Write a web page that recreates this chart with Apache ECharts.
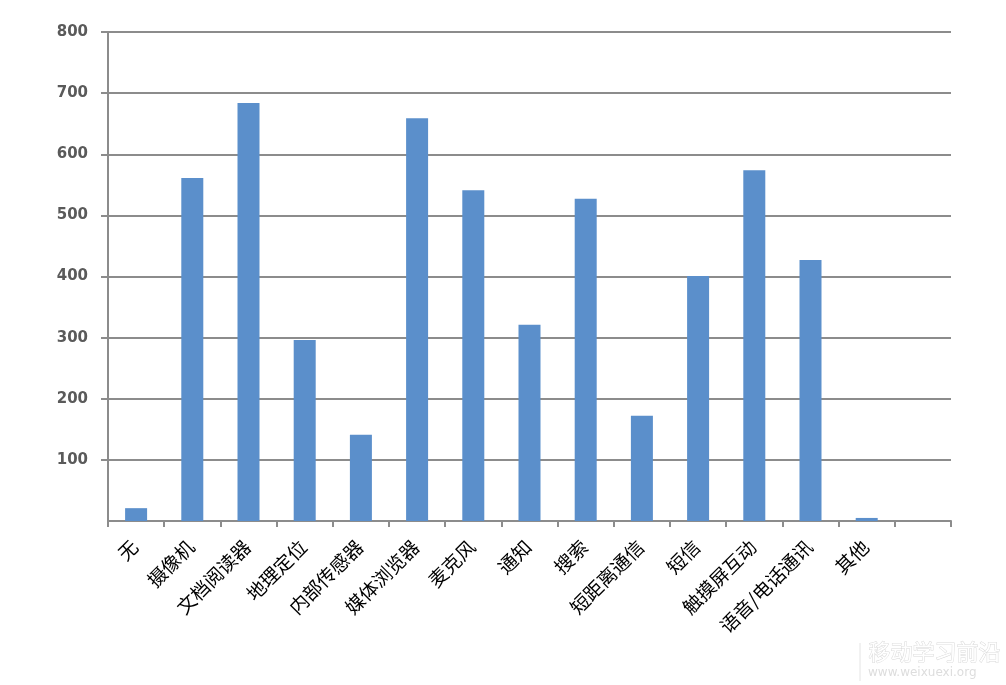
<!DOCTYPE html>
<html>
<head>
<meta charset="utf-8">
<script src="https://cdn.jsdelivr.net/npm/echarts@6/dist/echarts.min.js"></script>
<style>
html,body{margin:0;padding:0;background:#fff;}
#main{width:1006px;height:685px;}
</style>
</head>
<body>
<div id="main"></div>
<script>
const categories = ['无','摄像机','文档阅读器','地理定位','内部传感器','媒体浏览器','麦克风','通知','搜索','短距离通信','短信','触摸屏互动','语音/电话通讯','其他',''];
const values = [21, 561, 684, 296, 141, 659, 541, 321, 527, 172, 401, 574, 427, 5, null];
const yTicks = { min: 0, max: 800, interval: 100 };
const watermarkTitle = '移动学习前沿';
const watermarkUrl = 'www.weixuexi.org';

const chart = echarts.init(document.getElementById('main'));
chart.setOption({
  animation: false,
  backgroundColor: '#ffffff',
  grid: { left: 108, right: 55, top: 32, bottom: 164, containLabel: false },
  xAxis: {
    type: 'category',
    data: categories,
    boundaryGap: true,
    axisLine: { show: true, lineStyle: { color: '#8c8c8c', width: 2 } },
    axisTick: { show: true, alignWithLabel: false, length: 6, lineStyle: { color: '#8c8c8c', width: 2 } },
    axisLabel: {
      interval: 0, rotate: 45, margin: 21,
      padding: [0, 2, 0, 0],
      color: '#000', fontSize: 19,
      fontFamily: '"Noto Sans CJK SC", sans-serif'
    }
  },
  yAxis: {
    type: 'value',
    min: yTicks.min, max: yTicks.max, interval: yTicks.interval,
    axisLine: { show: true, lineStyle: { color: '#8c8c8c', width: 2 } },
    axisTick: { show: true, length: 7, lineStyle: { color: '#8c8c8c', width: 2 } },
    splitLine: { show: true, lineStyle: { color: '#8c8c8c', width: 2 } },
    axisLabel: {
      showMinLabel: false,
      margin: 20, color: '#5a5a5a', fontSize: 15, fontWeight: 'bold',
      fontFamily: '"DejaVu Sans", sans-serif'
    }
  },
  series: [{
    type: 'bar',
    data: values,
    barWidth: 22,
    itemStyle: { color: '#5b8fcb' }
  }],
  graphic: [
    { type: 'line', shape: { x1: 860, y1: 643, x2: 860, y2: 681 }, style: { stroke: '#e4e4e4', lineWidth: 1 } },
    { type: 'text', left: 868, top: 640, style: { text: watermarkTitle, fontSize: 22, fill: '#ffffff', stroke: '#d9d9d9', lineWidth: 1, fontFamily: '"Noto Sans CJK SC", sans-serif' } },
    { type: 'text', left: 868, top: 667, style: { text: watermarkUrl, fontSize: 12, fill: '#dddddd', fontFamily: '"DejaVu Sans", sans-serif' } }
  ]
});
</script>
</body>
</html>
